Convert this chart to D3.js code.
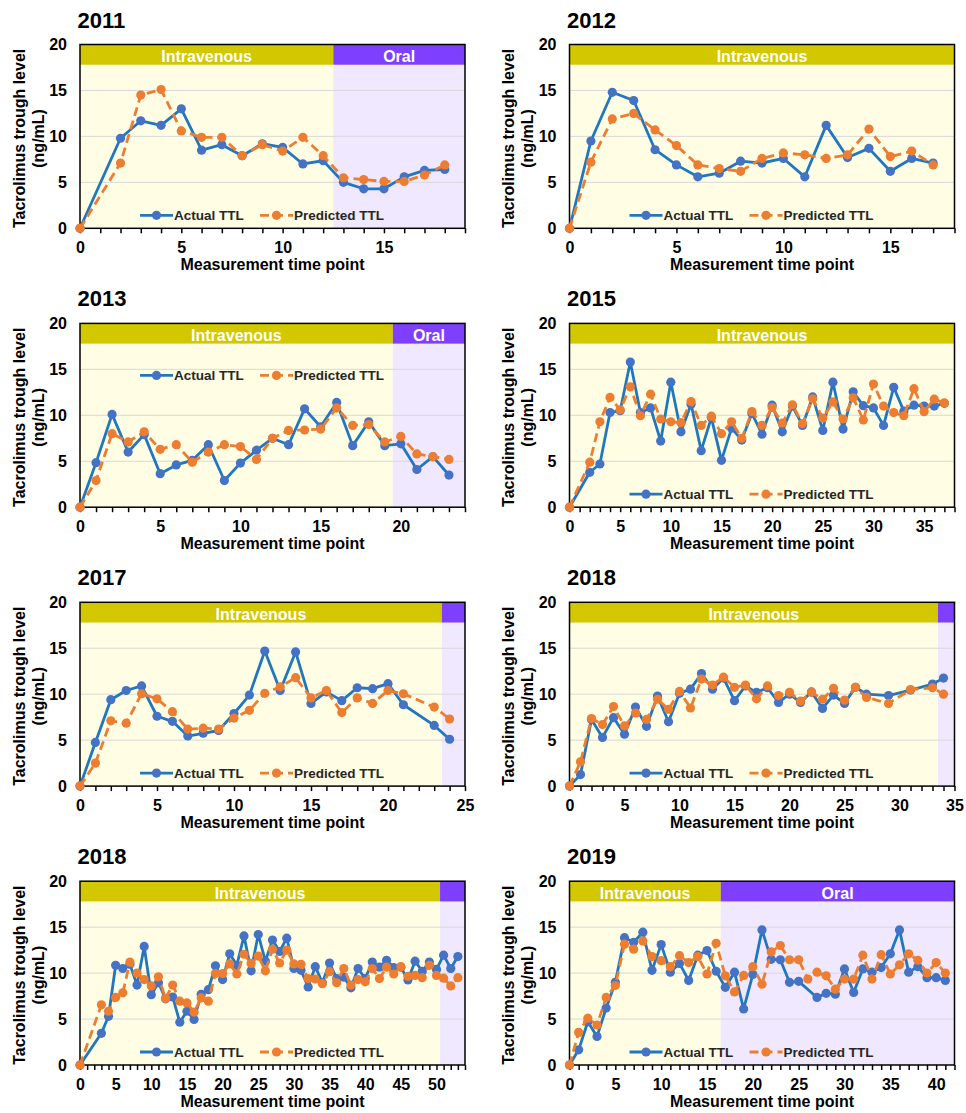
<!DOCTYPE html>
<html>
<head>
<meta charset="utf-8">
<script src="https://cdn.jsdelivr.net/npm/d3@7"></script>
<style>
  body { margin: 0; background: #fff; }
  svg text { font-family: "Liberation Sans", Arial, sans-serif; font-weight: bold; }
</style>
</head>
<body>
<div id="chart"></div>
<script>
/*******************************/
/*            Data             */
/*******************************/

var panelTitles = ["2011", "2012", "2013", "2015", "2017", "2018", "2018", "2019"];

// 2011
var time2011   = [0, 2, 3, 4, 5, 6, 7, 8, 9, 10, 11, 12, 13, 14, 15, 16, 17, 18];
var actual2011 = [0, 9.8, 11.7, 11.2, 13.0, 8.5, 9.1, 7.9, 9.2, 8.8, 7.0, 7.35, 5.0, 4.3, 4.3, 5.6, 6.3, 6.4];
var pred2011   = [0, 7.1, 14.5, 15.1, 10.6, 9.9, 9.9, 7.9, 9.1, 8.4, 9.9, 7.9, 5.5, 5.3, 5.1, 5.1, 5.8, 6.9];

// 2012
var time2012   = d3.range(0, 18);
var actual2012 = [0, 9.5, 14.8, 13.9, 8.55, 6.9, 5.6, 6.0, 7.3, 7.1, 7.6, 5.6, 11.2, 7.7, 8.7, 6.2, 7.6, 7.1];
var pred2012   = [0, 7.2, 11.9, 12.5, 10.7, 9.0, 6.9, 6.5, 6.2, 7.6, 8.2, 8.0, 7.6, 8.0, 10.8, 7.8, 8.4, 6.9];

// 2013
var time2013   = d3.range(0, 24);
var actual2013 = [0, 4.85, 10.1, 6.0, 7.9, 3.65, 4.6, 5.1, 6.8, 2.9, 4.8, 6.2, 7.5, 6.8, 10.7, 8.75, 11.4, 6.7, 9.3, 6.7, 6.9, 4.1, 5.5, 3.5];
var pred2013   = [0, 2.9, 8.0, 7.1, 8.2, 6.3, 6.8, 4.9, 6.0, 6.8, 6.6, 5.2, 7.5, 8.35, 8.4, 8.5, 10.8, 8.9, 9.0, 7.1, 7.7, 5.8, 5.5, 5.2];

// 2015
var time2015   = [0].concat(d3.range(2, 38));
var actual2015 = [0, 3.8, 4.7, 10.3, 10.5, 15.8, 10.3, 10.8, 7.2, 13.6, 8.2, 11.2, 6.15, 9.75, 5.1, 8.6, 7.3, 10.2, 7.95,
                  11.1, 8.2, 11.0, 8.9, 12.0, 8.35, 13.6, 8.5, 12.55, 11.05, 10.8, 8.9, 13.05, 10.45, 11.1, 11.0, 11.0, 11.3];
var pred2015   = [0, 4.9, 9.3, 11.95, 10.6, 13.1, 9.95, 12.3, 9.6, 9.3, 9.2, 11.5, 8.9, 9.9, 8.0, 9.3, 7.5, 10.4, 8.9,
                  10.85, 9.15, 11.15, 9.1, 11.8, 9.7, 11.45, 9.6, 11.9, 9.5, 13.4, 11.0, 10.3, 9.95, 12.9, 10.4, 11.75, 11.35];

// 2017
var time2017   = d3.range(0, 22).concat([23, 24]);
var actual2017 = [0, 4.75, 9.4, 10.4, 10.9, 7.6, 7.05, 5.45, 5.75, 6.05, 7.9, 9.9, 14.7, 10.4, 14.6, 9.0, 10.25, 9.3, 10.7, 10.6, 11.15, 8.85, 6.6, 5.1];
var pred2017   = [0, 2.5, 7.1, 6.85, 10.05, 9.5, 8.1, 6.2, 6.3, 6.2, 7.4, 8.25, 10.1, 10.8, 11.8, 9.6, 10.4, 8.0, 9.6, 9.0, 10.4, 10.05, 8.6, 7.3];

// 2018 (first patient)
var time2018a   = d3.range(0, 28).concat([29, 31, 33, 34]);
var actual2018a = [0, 1.25, 7.25, 5.3, 7.45, 5.65, 8.6, 6.5, 9.8, 7.0, 10.1, 10.55, 12.25, 10.55, 11.75, 9.3, 10.9, 10.2, 10.7, 9.1,
                   10.0, 9.1, 10.25, 8.45, 9.9, 9.0, 10.75, 10.0, 9.85, 10.45, 11.1, 11.75];
var pred2018a   = [0, 2.65, 7.35, 6.7, 8.65, 6.55, 7.95, 7.25, 9.45, 8.35, 10.3, 8.5, 11.65, 11.0, 11.85, 10.75, 11.0, 9.5, 10.9, 9.85,
                   10.2, 9.25, 10.2, 9.45, 10.65, 9.35, 10.75, 9.65, 9.0, 10.5, 10.7, 10.0];

// 2018 (second patient)
var time2018b   = [0].concat(d3.range(3, 54));
var actual2018b = [0, 3.45, 5.3, 10.85, 10.5, 10.95, 8.7, 12.9, 7.65, 8.95, 7.2, 7.4, 4.65, 5.85, 4.95, 7.7, 8.2, 10.8, 9.3, 12.1,
                   10.85, 14.05, 10.25, 14.2, 11.3, 13.6, 12.35, 13.8, 10.5, 10.3, 8.5, 10.7, 8.95, 11.1, 9.4, 9.55, 8.4, 10.5,
                   9.4, 11.2, 10.65, 11.4, 10.6, 10.65, 9.25, 11.3, 10.2, 11.2, 10.4, 11.95, 10.5, 11.8];
var pred2018b   = [0, 6.55, 5.85, 7.35, 7.85, 11.2, 10.0, 9.3, 8.6, 9.6, 7.25, 8.7, 6.95, 6.75, 5.75, 7.3, 6.95, 9.95, 9.95, 11.0,
                   9.9, 12.05, 11.05, 11.85, 10.25, 12.6, 11.1, 12.5, 11.0, 10.95, 9.4, 9.35, 8.85, 10.15, 8.95, 10.5, 8.7, 9.3,
                   9.05, 10.5, 9.4, 10.65, 9.9, 10.7, 9.65, 9.75, 9.5, 10.85, 9.75, 9.45, 8.6, 9.5];

// 2019 (no actual value at time point 26)
var time2019   = d3.range(0, 42);
var actual2019 = [0, 1.65, 4.7, 3.1, 6.2, 9.0, 13.85, 13.35, 14.45, 10.3, 13.1, 10.1, 11.05, 9.2, 11.95, 12.45, 10.2, 8.45, 10.1, 6.1,
                  9.85, 14.7, 11.5, 11.45, 9.0, 9.1, null, 7.35, 7.8, 7.7, 10.45, 7.9, 10.45, 10.1, 10.6, 12.1, 14.7, 10.1, 10.7, 9.5, 9.5, 9.2];
var pred2019   = [0, 3.55, 5.1, 4.35, 7.35, 8.65, 13.15, 12.6, 13.5, 11.8, 11.35, 10.7, 11.9, 11.15, 11.8, 9.9, 13.25, 9.7, 7.95, 9.75,
                  10.7, 8.8, 12.3, 13.0, 11.45, 11.45, 9.35, 10.1, 9.7, 8.25, 9.35, 9.35, 11.95, 9.35, 12.0, 9.9, 10.9, 12.1, 11.4, 10.0, 11.15, 10.0];

var panelTimes     = [time2011, time2012, time2013, time2015, time2017, time2018a, time2018b, time2019];
var panelActual    = [actual2011, actual2012, actual2013, actual2015, actual2017, actual2018a, actual2018b, actual2019];
var panelPredicted = [pred2011, pred2012, pred2013, pred2015, pred2017, pred2018a, pred2018b, pred2019];

// x axis end and the time at which the route switches to oral (null = intravenous only)
var panelXMax   = [19, 18, 24, 38, 25, 35, 54, 42];
var panelOralAt = [12.5, null, 19.5, null, 23.5, 33.5, 50.5, 16.5];
var legendAtTop = [false, false, true, false, false, false, false, false];

var yTicks = [0, 5, 10, 15, 20];
var bandFrom = 17.8;  // header band covers 17.8 .. 20

/*******************************/
/*           Layout            */
/*******************************/

var W = 966, H = 1113;
var colLeft = [80, 569.5],
    plotW = 385,
    plotH = 183.8;

var col = {
  actualLine: "#1f77c0", actualDot: "#4472c4",
  predLine: "#ed7d31", predDot: "#ed7d31",
  ivBg: "#fffde3", oralBg: "#f0e8fe",
  ivBand: "#d3c800", oralBand: "#7f3fff",
  grid: "#d9d9d9", text: "#000", legend: "#262626"
};

var svg = d3.select("#chart").append("svg")
  .attr("width", W)
  .attr("height", H);

/*******************************/
/*        Draw one panel       */
/*******************************/

function draw_panel(i) {
  var left = colLeft[i % 2],
      top = 44.5 + Math.floor(i / 2) * 278.9;

  var x = d3.scaleLinear().domain([0, panelXMax[i]]).range([0, plotW]);
  var y = d3.scaleLinear().domain([0, 20]).range([plotH, 0]);

  var g = svg.append("g").attr("transform", "translate(" + left + "," + top + ")");

  var oral = panelOralAt[i];
  var ivEnd = oral === null ? plotW : x(oral);

  // backgrounds
  g.append("rect").attr("width", ivEnd).attr("height", plotH).attr("fill", col.ivBg);
  if (oral !== null) {
    g.append("rect").attr("x", ivEnd).attr("width", plotW - ivEnd).attr("height", plotH).attr("fill", col.oralBg);
  }

  // gridlines
  g.selectAll(".grid")
    .data([5, 10, 15])
    .enter().append("line")
    .attr("x1", 0).attr("x2", plotW)
    .attr("y1", function(d) { return y(d); })
    .attr("y2", function(d) { return y(d); })
    .attr("stroke", col.grid).attr("stroke-width", 1);

  // route header band
  g.append("rect").attr("width", ivEnd).attr("height", y(bandFrom)).attr("fill", col.ivBand);
  g.append("text")
    .attr("x", ivEnd / 2).attr("y", y(bandFrom) - 2.5)
    .attr("text-anchor", "middle").attr("fill", "#fff").attr("font-size", 16)
    .text("Intravenous");
  if (oral !== null) {
    g.append("rect").attr("x", ivEnd).attr("width", plotW - ivEnd).attr("height", y(bandFrom)).attr("fill", col.oralBand);
    if (plotW - ivEnd > 40) {
      g.append("text")
        .attr("x", (ivEnd + plotW) / 2).attr("y", y(bandFrom) - 2.5)
        .attr("text-anchor", "middle").attr("fill", "#fff").attr("font-size", 16)
        .text("Oral");
    }
  }

  // axes
  var xMinor = g.append("g")
    .attr("transform", "translate(0," + plotH + ")")
    .call(d3.axisBottom(x).tickValues(d3.range(0, Math.floor(panelXMax[i]) + 1)).tickSize(5).tickFormat(""));
  xMinor.select(".domain").remove();
  xMinor.selectAll("line").attr("stroke", "#000").attr("stroke-width", 1.5);

  var xMajor = g.append("g")
    .attr("transform", "translate(0," + plotH + ")")
    .call(d3.axisBottom(x).tickValues(d3.range(0, panelXMax[i] + 0.01, 5)).tickSize(0).tickPadding(13.5));
  xMajor.select(".domain").remove();
  xMajor.selectAll("text").attr("font-size", 16).attr("fill", col.text);

  var yAxis = g.append("g")
    .call(d3.axisLeft(y).tickValues(yTicks).tickSize(0).tickPadding(13));
  yAxis.select(".domain").remove();
  yAxis.selectAll("text").attr("font-size", 16).attr("fill", col.text);

  // plot frame
  g.append("rect")
    .attr("width", plotW).attr("height", plotH)
    .attr("fill", "none").attr("stroke", "#000").attr("stroke-width", 1.5);

  // series
  var times = panelTimes[i];
  var actual = times.map(function(t, k) { return { t: t, v: panelActual[i][k] }; })
    .filter(function(d) { return d.v !== null; });
  var pred = times.map(function(t, k) { return { t: t, v: panelPredicted[i][k] }; });

  var line = d3.line()
    .x(function(d) { return x(d.t); })
    .y(function(d) { return y(d.v); });

  g.append("path").datum(actual)
    .attr("d", line).attr("fill", "none")
    .attr("stroke", col.actualLine).attr("stroke-width", 2.8).attr("stroke-linejoin", "round");
  g.selectAll(".dot-a").data(actual).enter().append("circle")
    .attr("cx", function(d) { return x(d.t); })
    .attr("cy", function(d) { return y(d.v); })
    .attr("r", 4.6).attr("fill", col.actualDot);

  g.append("path").datum(pred)
    .attr("d", line).attr("fill", "none")
    .attr("stroke", col.predLine).attr("stroke-width", 2.8).attr("stroke-dasharray", "9,5");
  g.selectAll(".dot-p").data(pred).enter().append("circle")
    .attr("cx", function(d) { return x(d.t); })
    .attr("cy", function(d) { return y(d.v); })
    .attr("r", 4.6).attr("fill", col.predDot);

  // legend
  var ly = legendAtTop[i] ? 52 : plotH - 13;
  var legend = [
    { label: "Actual TTL", dx: 60, stroke: col.actualLine, dot: col.actualDot, dash: null },
    { label: "Predicted TTL", dx: 180, stroke: col.predLine, dot: col.predDot, dash: "9,5" }
  ];
  legend.forEach(function(item) {
    g.append("line")
      .attr("x1", item.dx).attr("x2", item.dx + 33)
      .attr("y1", ly).attr("y2", ly)
      .attr("stroke", item.stroke).attr("stroke-width", 2.8)
      .attr("stroke-dasharray", item.dash);
    g.append("circle").attr("cx", item.dx + 16.5).attr("cy", ly).attr("r", 4.6).attr("fill", item.dot);
    g.append("text")
      .attr("x", item.dx + 34).attr("y", ly + 5)
      .attr("font-size", 13.5).attr("fill", col.legend)
      .text(item.label);
  });

  // titles
  svg.append("text")
    .attr("x", left - 2.5).attr("y", top - 17)
    .attr("font-size", 22).attr("fill", col.text)
    .text(panelTitles[i]);

  svg.append("text")
    .attr("x", left + plotW / 2).attr("y", top + plotH + 42)
    .attr("text-anchor", "middle").attr("font-size", 16).attr("fill", col.text)
    .text("Measurement time point");

  var cy = top + plotH / 2 + 2;
  svg.append("text")
    .attr("transform", "translate(" + (left - 55.5) + "," + cy + ") rotate(-90)")
    .attr("text-anchor", "middle").attr("font-size", 16).attr("fill", col.text)
    .text("Tacrolimus trough level");
  svg.append("text")
    .attr("transform", "translate(" + (left - 36.5) + "," + cy + ") rotate(-90)")
    .attr("text-anchor", "middle").attr("font-size", 16).attr("fill", col.text)
    .text("(ng/mL)");
}

for (var i = 0; i < panelTitles.length; i++) {
  draw_panel(i);
}
</script>
</body>
</html>
